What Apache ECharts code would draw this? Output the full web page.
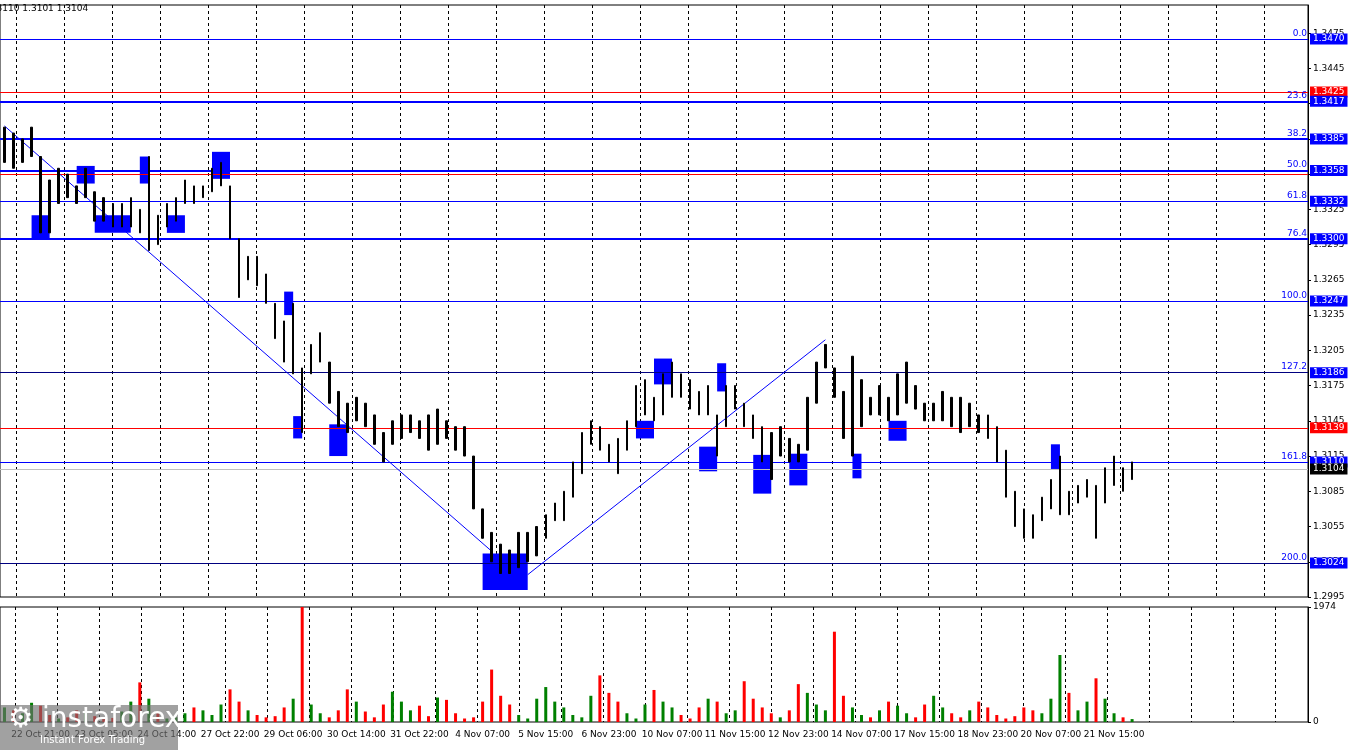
<!DOCTYPE html>
<html><head><meta charset="utf-8">
<script src="https://cdn.jsdelivr.net/npm/echarts@6/dist/echarts.min.js"></script>
<style>html,body{margin:0;padding:0;background:#fff}#c{width:1350px;height:750px}</style>
</head><body><div id="c"></div>
<script>
var chart = echarts.init(document.getElementById('c'));

// bar highs / lows (price)
const highs = [1.3395,1.3390,1.3385,1.3395,1.3370,1.3350,1.3360,1.3355,1.3345,1.3360,1.3340,1.3335,1.3330,1.3330,1.3335,1.3325,1.3370,1.3320,1.3330,1.3335,
  1.3350,1.3345,1.3345,1.3360,1.3365,1.3345,1.3300,1.3285,1.3285,1.3270,1.3245,1.3230,1.3245,1.3190,1.3210,1.3220,1.3195,1.3170,1.3160,1.3165,
  1.3160,1.3150,1.3135,1.3145,1.3150,1.3150,1.3145,1.3150,1.3155,1.3145,1.3140,1.3140,1.3115,1.3070,1.3050,1.3040,1.3035,1.3050,1.3050,1.3055,
  1.3065,1.3075,1.3085,1.3110,1.3135,1.3145,1.3140,1.3125,1.3130,1.3145,1.3175,1.3180,1.3165,1.3185,1.3195,1.3185,1.3180,1.3170,1.3175,1.3150,
  1.3175,1.3175,1.3160,1.3150,1.3140,1.3135,1.3140,1.3130,1.3125,1.3165,1.3195,1.3210,1.3190,1.3170,1.3200,1.3180,1.3165,1.3175,1.3165,1.3185,
  1.3195,1.3175,1.3160,1.3160,1.3170,1.3165,1.3165,1.3160,1.3150,1.3150,1.3140,1.3120,1.3085,1.3070,1.3065,1.3080,1.3095,1.3115,1.3085,1.3090,
  1.3095,1.3090,1.3105,1.3115,1.3105,1.3110];
const lows = [1.3365,1.3360,1.3365,1.3370,1.3305,1.3305,1.3330,1.3335,1.3330,1.3335,1.3315,1.3315,1.3310,1.3310,1.3310,1.3305,1.3290,1.3295,1.3310,1.3315,
  1.3330,1.3330,1.3335,1.3340,1.3345,1.3300,1.3250,1.3265,1.3260,1.3245,1.3215,1.3195,1.3185,1.3135,1.3185,1.3195,1.3160,1.3140,1.3135,1.3145,
  1.3140,1.3125,1.3110,1.3125,1.3130,1.3135,1.3130,1.3120,1.3125,1.3130,1.3120,1.3115,1.3070,1.3045,1.3025,1.3015,1.3015,1.3020,1.3025,1.3030,
  1.3045,1.3060,1.3060,1.3080,1.3100,1.3125,1.3120,1.3110,1.3100,1.3120,1.3140,1.3150,1.3145,1.3150,1.3165,1.3165,1.3155,1.3150,1.3150,1.3115,
  1.3140,1.3155,1.3140,1.3130,1.3110,1.3095,1.3115,1.3110,1.3110,1.3120,1.3160,1.3190,1.3165,1.3130,1.3115,1.3140,1.3150,1.3150,1.3145,1.3150,
  1.3160,1.3155,1.3145,1.3145,1.3145,1.3140,1.3135,1.3140,1.3135,1.3130,1.3110,1.3080,1.3055,1.3045,1.3045,1.3060,1.3070,1.3065,1.3065,1.3075,
  1.3080,1.3045,1.3075,1.3090,1.3085,1.3095];
const volumes = [250,200,150,330,280,120, 60,80,200,150,100,50, 70,180,350,680,400,150, 60,80,150,250,200,120,
  300,560,350,200,120,80, 100,250,400,1974,300,150, 80,200,560,350,180,80, 300,520,350,200,280,100,
  420,380,150,60,80,350, 900,450,300,120,60,400, 600,350,250,120,80,450, 800,500,350,150,60,300,
  550,350,250,120,60,250, 400,350,150,200,700,400, 250,150,80,200,650,500, 300,200,1550,450,250,120,
  80,200,350,280,150,80, 300,450,250,150,80,200, 350,250,120,60,100,250, 200,150,400,1150,500,200,
  350,750,400,150,80,50];
const timeLabels = {4:'22 Oct 21:00',11:'23 Oct 05:00',18:'24 Oct 14:00',25:'27 Oct 22:00',32:'29 Oct 06:00',39:'30 Oct 14:00',
  46:'31 Oct 22:00',53:'4 Nov 07:00',60:'5 Nov 15:00',67:'6 Nov 23:00',74:'10 Nov 07:00',81:'11 Nov 15:00',88:'12 Nov 23:00',
  95:'14 Nov 07:00',102:'17 Nov 15:00',109:'18 Nov 23:00',116:'20 Nov 07:00',123:'21 Nov 15:00'};
// horizontal levels: price, colour, width, fib label, price tag shown
const levels = [
  [1.3470,'#0000ff',1,'0.0',true],[1.3425,'#ff0000',1,'',true],[1.3417,'#0000ff',2,'23.6',true],[1.3385,'#0000ff',2,'38.2',true],
  [1.3355,'#ff0000',1,'',false],[1.3358,'#0000ff',2,'50.0',true],[1.3332,'#0000ff',1,'61.8',true],[1.3300,'#0000ff',2,'76.4',true],
  [1.3247,'#0000ff',1,'100.0',true],[1.3186,'#000080',1,'127.2',true],[1.3139,'#ff0000',1,'',true],
  [1.3110,'#0000ff',1,'161.8',true],[1.3104,'#c0c0c0',1,'',true],[1.3024,'#000080',1,'200.0',true]];
const tagColors = {'1.3425':'#ff0000','1.3139':'#ff0000','1.3104':'#000000'};
// blue zones: [startIdx, endIdx, low, high]
const zones = [[3,3,1.3378,1.3395],[3,5,1.3300,1.3320],[8,10,1.3347,1.3362],[10,14,1.3305,1.3320],[15,16,1.3347,1.3370],
  [18,20,1.3305,1.3320],[23,25,1.3351,1.3374],[31,32,1.3235,1.3255],[32,33,1.3130,1.3149],[36,38,1.3115,1.3142],
  [53,58,1.3001,1.3032],[70,72,1.3130,1.3145],[72,74,1.3176,1.3198],[77,79,1.3102,1.3123],[79,80,1.3170,1.3194],
  [83,85,1.3083,1.3116],[87,89,1.3090,1.3117],[94,94,1.3178,1.3203],[94,95,1.3096,1.3117],[98,100,1.3128,1.3145],
  [100,100,1.3177,1.3198],[116,117,1.3104,1.3125]];
// trend lines: [idx, price] -> [idx, price]
const trends = [[[0,1.3396],[54,1.3034]],[[58,1.3014],[91,1.3214]]];

const BASE = 1.2995;
const pv = p => +((p - BASE) * 10000).toFixed(2);
const N = 145;
const cats = Array.from({length: N}, (_, i) => String(i));
const candles = highs.map((h, i) => [pv(lows[i]), pv(h), pv(lows[i]), pv(h)]);
const mids = highs.map((h, i) => (h + lows[i]) / 2);
const volData = volumes.map((v, i) => ({value: v, itemStyle: {color: (i === 0 || mids[i] >= mids[i - 1]) ? '#008000' : '#ff0000'}}));
const font = 'Tahoma, "DejaVu Sans", sans-serif';

const priceLines = levels.map(l => ({yAxis: pv(l[0]), lineStyle: {color: l[1], width: l[2], type: 'solid'},
  label: l[4] ? {show: true, position: 'end', distance: 2, formatter: l[0].toFixed(4), color: '#fff', fontSize: 9, fontFamily: font,
    backgroundColor: tagColors[l[0].toFixed(4)] || '#0000ff', padding: [1, 3]} : {show: false}}));
const fibLabels = levels.filter(l => l[3]).map(l => ({yAxis: pv(l[0]), lineStyle: {color: 'rgba(0,0,0,0)', width: 0},
  label: {show: true, position: 'insideEndTop', distance: 1, formatter: l[3], color: '#0000ff', fontSize: 9, fontFamily: font}}));

option = {
  animation: false,
  graphic: [
    {type: 'text', left: -12, top: 4, style: {text: '1.3110 1.3101 1.3104', font: '9px ' + font, fill: '#000'}},
    {type: 'rect', shape: {x: 0, y: 705, width: 178, height: 45}, style: {fill: 'rgba(110,110,110,0.65)'}, z: 100},
    {type: 'text', x: 8, y: 706, z: 101, style: {text: '⚙ instaforex', font: '28px ' + font, fill: '#fff'}},
    {type: 'text', x: 40, y: 735, z: 101, style: {text: 'Instant Forex Trading', font: '10px ' + font, fill: '#fff'}}
  ],
  grid: [
    {left: 0, right: 42, top: 5, bottom: 153, show: true, borderColor: '#000', borderWidth: 1},
    {left: 0, right: 42, top: 607, bottom: 28, show: true, borderColor: '#000', borderWidth: 1},
    {left: 16, right: 42, top: 5, bottom: 153},
    {left: 15, right: 42, top: 607, bottom: 28}
  ],
  xAxis: [
    {type: 'category', gridIndex: 0, data: cats, axisLine: {show: false}, axisTick: {show: false}, axisLabel: {show: false}},
    {type: 'category', gridIndex: 1, data: cats, axisLine: {show: false}, axisTick: {show: false},
      axisLabel: {interval: 0, fontSize: 9, color: '#000', fontFamily: font, formatter: (v, i) => timeLabels[i] || ''}},
    {type: 'value', gridIndex: 2, min: 0, max: 1292, interval: 48, axisLabel: {show: false}, axisLine: {show: false}, axisTick: {show: false},
      splitLine: {lineStyle: {color: '#000', type: [3, 3]}}},
    {type: 'value', gridIndex: 3, min: 0, max: 1293, interval: 42, axisLabel: {show: false}, axisLine: {show: false}, axisTick: {show: false},
      splitLine: {lineStyle: {color: '#000', type: [3, 3]}}}
  ],
  yAxis: [
    {type: 'value', gridIndex: 0, position: 'right', min: 0, max: 504, interval: 30,
      axisLine: {show: true, lineStyle: {color: '#000'}}, axisTick: {show: true, length: 3},
      splitLine: {show: false},
      axisLabel: {fontSize: 9, color: '#000', fontFamily: font, margin: 5, showMaxLabel: false, formatter: v => (BASE + v / 10000).toFixed(4)}},
    {type: 'value', gridIndex: 1, position: 'right', min: 0, max: 1974, interval: 1974,
      axisLine: {show: true, lineStyle: {color: '#000'}}, axisTick: {show: true, length: 3}, splitLine: {show: false},
      axisLabel: {fontSize: 9, color: '#000', fontFamily: font, margin: 5, formatter: v => String(v)}},
    {type: 'value', gridIndex: 2, show: false},
    {type: 'value', gridIndex: 3, show: false}
  ],
  series: [
    {
      type: 'candlestick', xAxisIndex: 0, yAxisIndex: 0, barWidth: 2, data: candles, z: 5,
      itemStyle: {color: '#000', color0: '#000', borderColor: '#000', borderColor0: '#000', borderWidth: 1},
      markArea: {silent: true, itemStyle: {color: '#0000ff', opacity: 1},
        data: zones.map(z => [{xAxis: z[0], yAxis: pv(z[2])}, {xAxis: z[1], yAxis: pv(z[3])}])},
      markLine: {silent: true, symbol: 'none', animation: false,
        data: priceLines.concat(fibLabels).concat(trends.map(t => [
          {coord: [t[0][0], pv(t[0][1])], lineStyle: {color: '#0000ff', width: 1, type: 'solid'}, label: {show: false}},
          {coord: [t[1][0], pv(t[1][1])]}]))}
    },
    {type: 'bar', xAxisIndex: 1, yAxisIndex: 1, barWidth: 3, data: volData},
    {type: 'line', xAxisIndex: 2, yAxisIndex: 2, data: []},
    {type: 'line', xAxisIndex: 3, yAxisIndex: 3, data: []}
  ]
};
chart.setOption(option);
</script></body></html>
